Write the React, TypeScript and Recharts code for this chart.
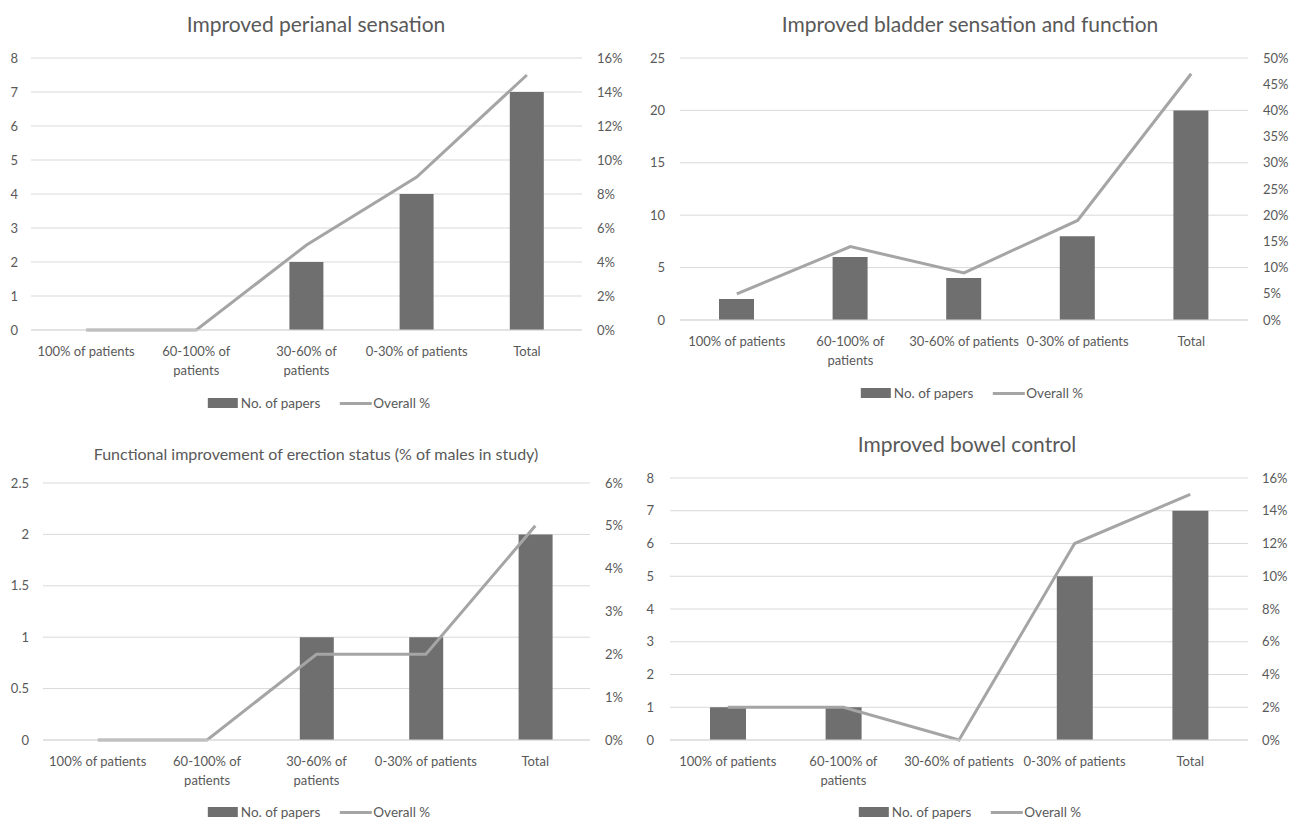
import React from 'react'
import { ComposedChart, Bar, Line, XAxis, YAxis, CartesianGrid } from 'recharts'

const categories = ['100% of patients', '60-100% of patients', '30-60% of patients', '0-30% of patients', 'Total']
const labelsWrapped = ['100% of patients', '60-100% of\npatients', '30-60% of\npatients', '0-30% of patients', 'Total']
const labelsOneLine = ['100% of patients', '60-100% of\npatients', '30-60% of patients', '0-30% of patients', 'Total']

const perianalPapers = [0, 0, 2, 4, 7]
const perianalPct = [0, 0, 5, 9, 15]
const bladderPapers = [2, 6, 4, 8, 20]
const bladderPct = [5, 14, 9, 19, 47]
const erectionPapers = [0, 0, 1, 1, 2]
const erectionPct = [0, 0, 2, 2, 5]
const bowelPapers = [1, 1, 0, 5, 7]
const bowelPct = [2, 2, 0, 12, 15]

const countTicks8 = [0, 1, 2, 3, 4, 5, 6, 7, 8]
const countTicks25 = [0, 5, 10, 15, 20, 25]
const countTicksHalf = [0, 0.5, 1, 1.5, 2, 2.5]
const pctTicks16 = [0, 2, 4, 6, 8, 10, 12, 14, 16]
const pctTicks50 = [0, 5, 10, 15, 20, 25, 30, 35, 40, 45, 50]
const pctTicks6 = [0, 1, 2, 3, 4, 5, 6]

const seriesNames = ['No. of papers', 'Overall %']

const FONT = 'Lato, "Liberation Sans", sans-serif'
const TEXT = '#595959'
const BAR = '#6f6f6f'
const LINE = '#a5a5a5'
const GRID = '#d9d9d9'

function CategoryTick({ x, y, payload }: any) {
  const lines = String(payload.value).split('\n')
  return (
    <text x={x} y={y} textAnchor="middle" fill={TEXT} fontSize={13} fontFamily={FONT}>
      {lines.map((l, i) => (
        <tspan key={i} x={x} dy={i === 0 ? 17.5 : 19}>
          {l}
        </tspan>
      ))}
    </text>
  )
}

function LegendRow({ cx, cy }: { cx: number; cy: number }) {
  return (
    <div
      style={{
        position: 'absolute',
        left: cx,
        top: cy - 9,
        transform: 'translateX(-50%)',
        display: 'flex',
        alignItems: 'center',
        whiteSpace: 'nowrap',
        fontSize: 13.5,
        fontFamily: FONT,
        color: TEXT,
        height: 18,
      }}
    >
      <span style={{ width: 30, height: 10, background: BAR, marginRight: 3 }} />
      <span style={{ marginRight: 19 }}>{seriesNames[0]}</span>
      <span style={{ width: 32, height: 3, background: LINE, marginRight: 2 }} />
      <span>{seriesNames[1]}</span>
    </div>
  )
}

interface PanelProps {
  left: number
  top: number
  title: string
  titleX: number
  titleY: number
  titleSize: number
  labels: string[]
  papers: number[]
  pct: number[]
  countTicks: number[]
  pctTicks: number[]
  plotTop: number
  plotBottom: number
  plotLeft: number
  plotRight: number
  leftGap: number
  rightGap: number
  barSize: number
  legendX: number
  legendY: number
}

function Panel(p: PanelProps) {
  const data = categories.map((c, i) => ({
    name: c,
    label: p.labels[i],
    papers: p.papers[i],
    pct: p.pct[i],
  }))
  const W = 645
  const H = 410
  const rightW = 40
  return (
    <div style={{ position: 'absolute', left: p.left, top: p.top, width: W, height: H }}>
      <div
        style={{
          position: 'absolute',
          left: p.titleX,
          top: p.titleY,
          transform: 'translate(-50%, -50%)',
          whiteSpace: 'nowrap',
          fontFamily: FONT,
          fontSize: p.titleSize,
          color: TEXT,
        }}
      >
        {p.title}
      </div>
      <ComposedChart
        width={W}
        height={H}
        data={data}
        margin={{ top: p.plotTop, bottom: H - 40 - p.plotBottom, left: 0, right: W - p.plotRight - rightW }}
      >
        <CartesianGrid yAxisId="left" vertical={false} stroke={GRID} strokeWidth={1} />
        <XAxis
          dataKey="label"
          axisLine={{ stroke: GRID }}
          tickLine={false}
          interval={0}
          height={40}
          tick={<CategoryTick />}
        />
        <YAxis
          yAxisId="left"
          width={p.plotLeft}
          domain={[0, p.countTicks[p.countTicks.length - 1]]}
          ticks={p.countTicks}
          interval={0}
          axisLine={false}
          tickLine={false}
          tickMargin={p.leftGap - 6}
          tick={{ fill: TEXT, fontSize: 13, fontFamily: FONT }}
        />
        <YAxis
          yAxisId="right"
          orientation="right"
          width={rightW}
          domain={[0, p.pctTicks[p.pctTicks.length - 1]]}
          ticks={p.pctTicks}
          interval={0}
          axisLine={false}
          tickLine={false}
          tickMargin={p.rightGap - 6}
          tickFormatter={(v: number) => `${v}%`}
          tick={{ fill: TEXT, fontSize: 13, fontFamily: FONT }}
        />
        <Bar yAxisId="left" dataKey="papers" fill={BAR} barSize={p.barSize} isAnimationActive={false} />
        <Line
          yAxisId="right"
          dataKey="pct"
          stroke={LINE}
          strokeWidth={3}
          dot={false}
          activeDot={false}
          type="linear"
          isAnimationActive={false}
        />
      </ComposedChart>
      <LegendRow cx={p.legendX} cy={p.legendY} />
    </div>
  )
}

export default function App() {
  return (
    <div style={{ position: 'absolute', left: 0, top: 0, width: 1290, height: 820, background: '#fff' }}>
      <Panel
        left={0}
        top={0}
        title="Improved perianal sensation"
        titleX={316}
        titleY={23}
        titleSize={21}
        labels={labelsWrapped}
        papers={perianalPapers}
        pct={perianalPct}
        countTicks={countTicks8}
        pctTicks={pctTicks16}
        plotTop={58}
        plotBottom={330}
        plotLeft={31}
        plotRight={582}
        leftGap={13}
        rightGap={15}
        barSize={34}
        legendX={319}
        legendY={403}
      />
      <Panel
        left={645}
        top={0}
        title="Improved bladder sensation and function"
        titleX={325}
        titleY={23}
        titleSize={21}
        labels={labelsOneLine}
        papers={bladderPapers}
        pct={bladderPct}
        countTicks={countTicks25}
        pctTicks={pctTicks50}
        plotTop={58}
        plotBottom={320}
        plotLeft={35}
        plotRight={603}
        leftGap={15}
        rightGap={15}
        barSize={35}
        legendX={327}
        legendY={393}
      />
      <Panel
        left={0}
        top={410}
        title="Functional improvement of erection status (% of males in study)"
        titleX={316}
        titleY={43}
        titleSize={16}
        labels={labelsWrapped}
        papers={erectionPapers}
        pct={erectionPct}
        countTicks={countTicksHalf}
        pctTicks={pctTicks6}
        plotTop={73}
        plotBottom={330}
        plotLeft={43}
        plotRight={590}
        leftGap={14}
        rightGap={15}
        barSize={34}
        legendX={319}
        legendY={402}
      />
      <Panel
        left={645}
        top={410}
        title="Improved bowel control"
        titleX={322}
        titleY={33}
        titleSize={21}
        labels={labelsOneLine}
        papers={bowelPapers}
        pct={bowelPct}
        countTicks={countTicks8}
        pctTicks={pctTicks16}
        plotTop={68}
        plotBottom={330}
        plotLeft={25}
        plotRight={603}
        leftGap={16}
        rightGap={14}
        barSize={36}
        legendX={325}
        legendY={402}
      />
    </div>
  )
}
